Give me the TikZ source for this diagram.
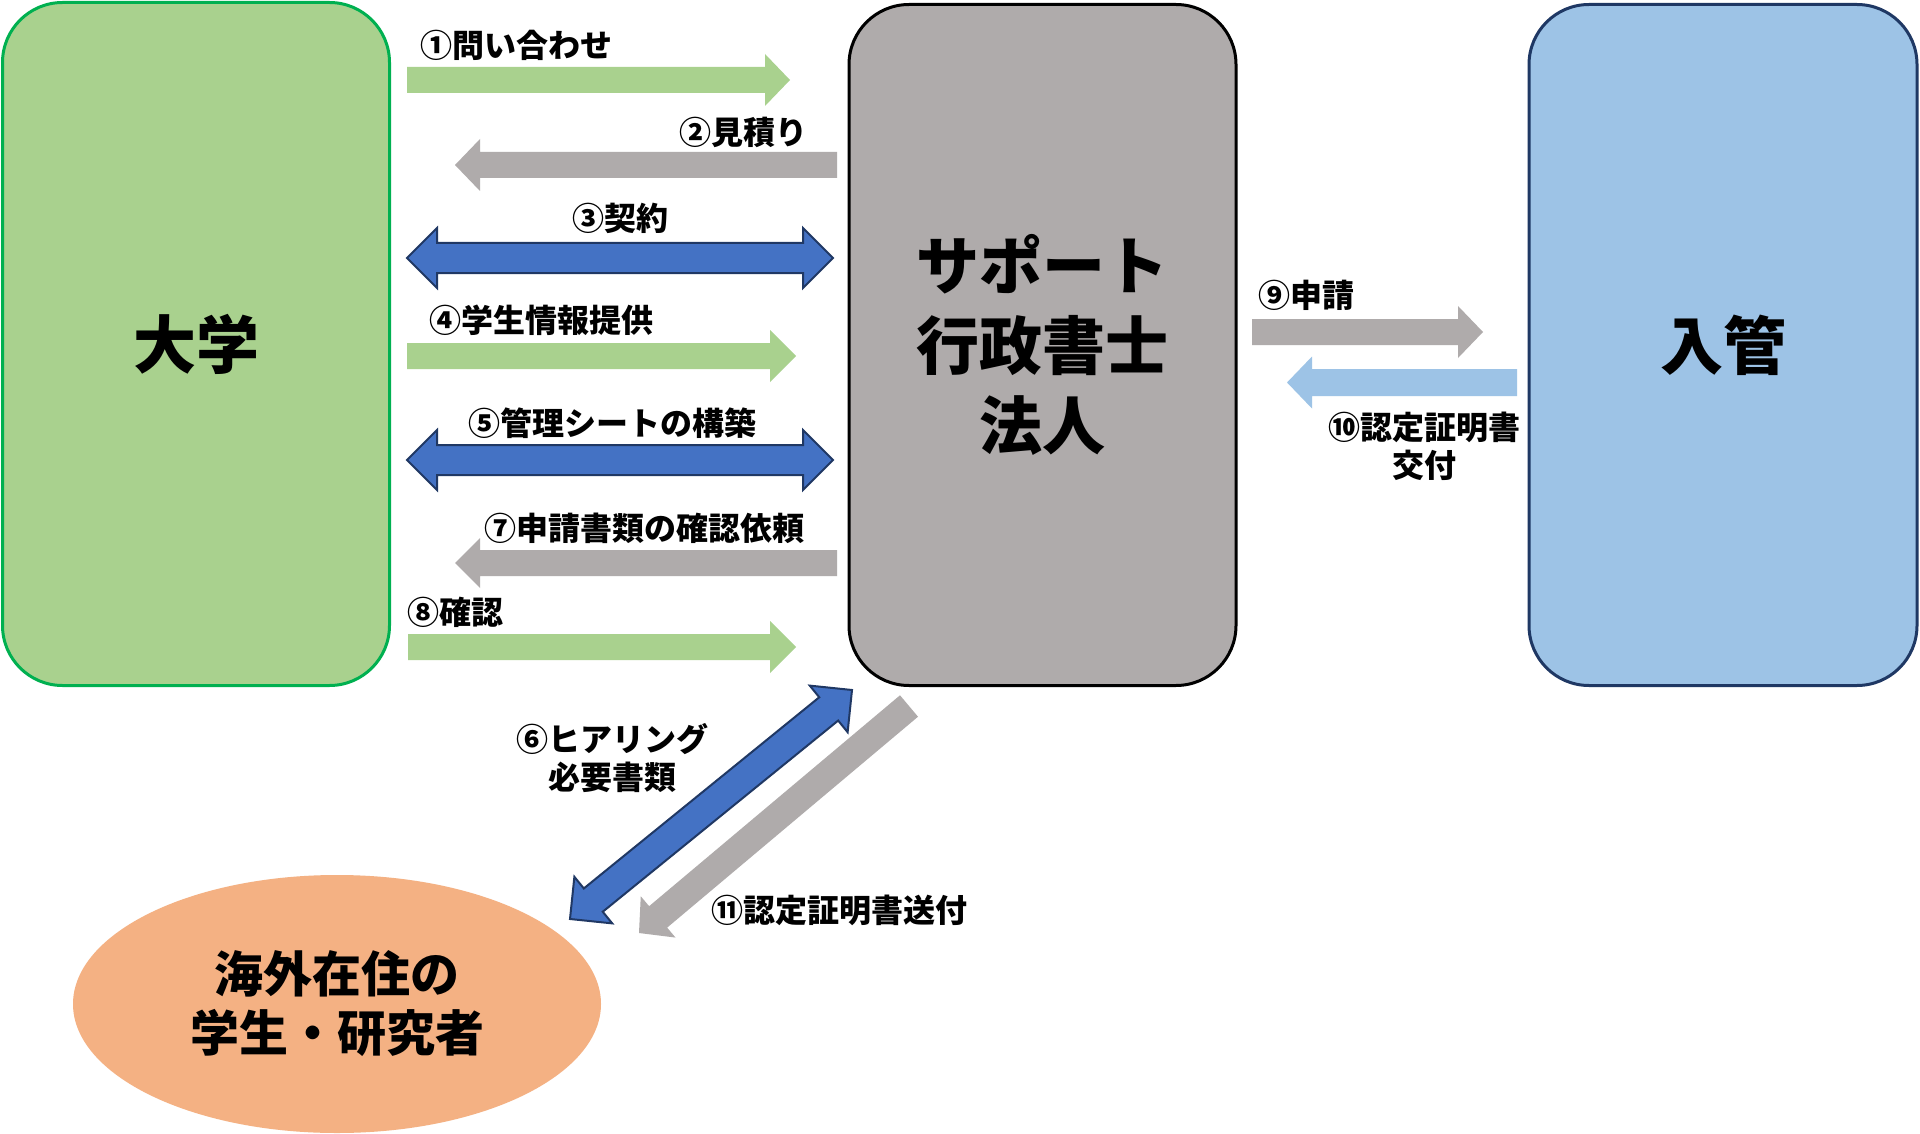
\documentclass[tikz,border=0pt]{standalone}
\usepackage{fontspec}
\setmainfont{Noto Sans CJK JP}
\usetikzlibrary{calc,shapes.geometric}
\definecolor{gfill}{HTML}{A9D18E}
\definecolor{gline}{HTML}{00B050}
\definecolor{grayf}{HTML}{AFABAB}
\definecolor{lbluef}{HTML}{9DC3E6}
\definecolor{navyline}{HTML}{1F3864}
\definecolor{arrline}{HTML}{203864}
\definecolor{bluef}{HTML}{4472C4}
\definecolor{orangef}{HTML}{F4B183}
% single block arrow: #1 style, #2 tail, #3 tip, #4 shaft half-width, #5 head half-width, #6 head length
\newcommand\sarr[6]{%
  \coordinate (#2h) at ($(#3)!#6!(#2)$);
  \draw[#1] ($(#2)!#4!90:(#3)$) -- ($(#2h)!#4!90:(#3)$) -- ($(#2h)!#5!90:(#3)$) -- (#3)
    -- ($(#2h)!#5!-90:(#3)$) -- ($(#2h)!#4!-90:(#3)$) -- ($(#2)!#4!-90:(#3)$) -- cycle;
}
% double block arrow
\newcommand\darr[6]{%
  \coordinate (#2h) at ($(#2)!#6!(#3)$);
  \coordinate (#3h) at ($(#3)!#6!(#2)$);
  \draw[#1] (#2) -- ($(#2h)!#5!90:(#3)$) -- ($(#2h)!#4!90:(#3)$) -- ($(#3h)!#4!90:(#3)$)
    -- ($(#3h)!#5!90:(#3)$) -- (#3) -- ($(#3h)!#5!-90:(#3)$) -- ($(#3h)!#4!-90:(#3)$)
    -- ($(#2h)!#4!-90:(#3)$) -- ($(#2h)!#5!-90:(#3)$) -- cycle;
}
\tikzset{
  bigbox/.style={rectangle, rounded corners=60pt, line width=3pt, inner sep=0pt,
    align=center, font=\fontsize{63}{80}\selectfont\bfseries},
  lbl/.style={inner sep=0pt, align=center, font=\fontsize{32}{38}\selectfont\bfseries},
  greenarr/.style={fill=gfill, draw=none},
  grayarr/.style={fill=grayf, draw=none},
  lbluearr/.style={fill=lbluef, draw=none},
  bluearr/.style={fill=bluef, draw=arrline, line width=2pt, line join=miter},
}
\begin{document}
\begin{tikzpicture}[x=1pt,y=-1pt]
\useasboundingbox (0,0) rectangle (1920,1134);
\fill[white] (0,0) rectangle (1920,1134);
% main boxes
\node[bigbox, fill=gfill, draw=gline, minimum width=387pt, minimum height=683pt] (uni) at (196,344) {大学};
\node[bigbox, fill=grayf, draw=black, minimum width=387pt, minimum height=681pt] (sup) at (1042.5,345) {サポート\\行政書士\\法人};
\node[bigbox, fill=lbluef, draw=navyline, minimum width=388pt, minimum height=681pt] (imm) at (1723,345) {入管};
\node[ellipse, fill=orangef, draw=none, minimum width=528pt, minimum height=258pt, inner sep=0pt,
  align=center, font=\fontsize{49}{59}\selectfont\bfseries] (stu) at (337,1004) {海外在住の\\学生・研究者};
% arrow end points
\coordinate (a1s) at (407,80);   \coordinate (a1e) at (790,80);
\coordinate (a2s) at (837,165);  \coordinate (a2e) at (455,165);
\coordinate (a3s) at (407,258);  \coordinate (a3e) at (833,258);
\coordinate (a4s) at (407,356);  \coordinate (a4e) at (796,356);
\coordinate (a5s) at (407,460);  \coordinate (a5e) at (833,460);
\coordinate (a7s) at (837,563);  \coordinate (a7e) at (455,563);
\coordinate (a8s) at (408,647);  \coordinate (a8e) at (796,647);
\coordinate (a9s) at (1252,332); \coordinate (a9e) at (1483,332);
\coordinate (b0s) at (1517,382.5); \coordinate (b0e) at (1287,382.5);
\coordinate (a6s) at (570,919);  \coordinate (a6e) at (852,690);
\coordinate (b1s) at (909,706);  \coordinate (b1e) at (639,933);
% arrows
\sarr{greenarr}{a1s}{a1e}{13pt}{26pt}{25pt}
\sarr{grayarr}{a2s}{a2e}{13pt}{26pt}{25pt}
\darr{bluearr}{a3s}{a3e}{15pt}{30pt}{30pt}
\sarr{greenarr}{a4s}{a4e}{13pt}{26pt}{26pt}
\darr{bluearr}{a5s}{a5e}{15pt}{30pt}{30pt}
\sarr{grayarr}{a7s}{a7e}{13pt}{25pt}{25pt}
\sarr{greenarr}{a8s}{a8e}{13pt}{26pt}{26pt}
\sarr{grayarr}{a9s}{a9e}{13pt}{26pt}{25pt}
\sarr{lbluearr}{b0s}{b0e}{13.5pt}{26pt}{25pt}
\darr{bluearr}{a6s}{a6e}{15pt}{30pt}{30pt}
\sarr{grayarr}{b1s}{b1e}{14pt}{27pt}{25pt}
% labels
\node[lbl] (l1) at (516,45) {①問い合わせ};
\node[lbl] (l2) at (743,132) {②見積り};
\node[lbl] (l3) at (620,218) {③契約};
\node[lbl] (l4) at (541,320) {④学生情報提供};
\node[lbl] (l5) at (612,423) {⑤管理シートの構築};
\node[lbl] (l7) at (644,528) {⑦申請書類の確認依頼};
\node[lbl] (l8) at (455,612) {⑧確認};
\node[lbl] (l9) at (1306,295) {⑨申請};
\node[lbl] (l10) at (1424,446) {⑩認定証明書\\交付};
\node[lbl] (l6) at (612,758) {⑥ヒアリング\\必要書類};
\node[lbl] (l11) at (839,910) {⑪認定証明書送付};
\end{tikzpicture}
\end{document}
